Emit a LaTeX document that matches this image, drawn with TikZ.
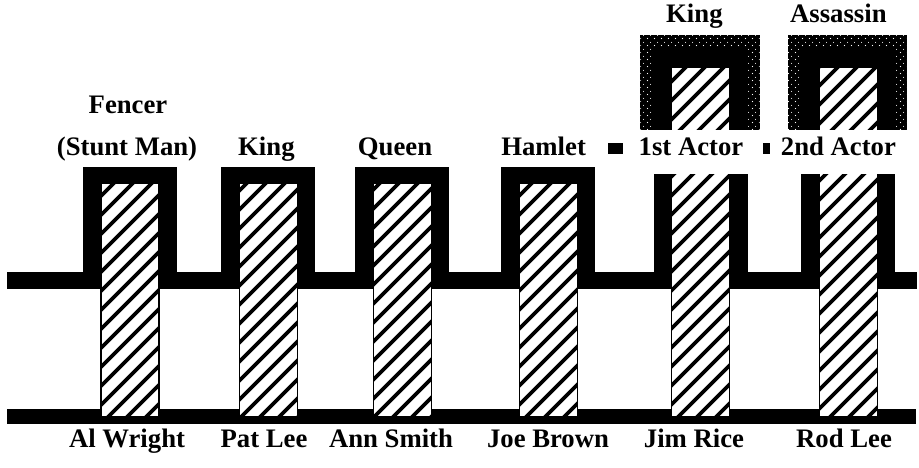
\documentclass[tikz,border=0pt]{standalone}
\usepackage{fontspec}
\setmainfont{Liberation Serif}
\usetikzlibrary{patterns.meta}

% hatching of the actor bars
\tikzdeclarepattern{
  name=hatch,
  type=uncolored,
  bounding box={(0pt,0pt) and (13.5pt,13.5pt)},
  tile size={(13.5pt,13.5pt)},
  code={
    \draw[line width=2.6pt] (-2pt,-2pt) -- (15.5pt,15.5pt);
    \draw[line width=2.6pt] (-2pt,11.5pt) -- (2pt,15.5pt);
    \draw[line width=2.6pt] (11.5pt,-2pt) -- (15.5pt,2pt);
  }
}
% speckled edge of the inner roles
\tikzdeclarepattern{
  name=specks,
  type=uncolored,
  bounding box={(0pt,0pt) and (5pt,5pt)},
  tile size={(5pt,5pt)},
  code={\fill (1.2pt,1.2pt) circle (0.45pt); \fill (3.7pt,3.7pt) circle (0.4pt);}
}

\begin{document}
\begin{tikzpicture}[
    lbl/.style={font=\fontsize{19}{24}\selectfont\bfseries, inner sep=0pt, anchor=base},
    cover/.style={fill=white, inner xsep=3pt, text height=0.65cm, text depth=0.45cm},
    actor/.style={fill=white, draw=black, line width=0.8pt, postaction={pattern=hatch}},
    speckled/.style={fill=black, postaction={pattern=specks, pattern color=white}}
]
    \useasboundingbox (0,0) rectangle (22.975,11.7);

    % Plano inferior y plano de la obra
    \fill (0.175,1.1) rectangle (22.9,1.475);
    \fill (0.175,4.475) rectangle (22.925,4.9);

    % Papeles en la obra
    \foreach \c in {3.25,6.71,10.06,13.71,17.52,21.21}
        \fill (\c-1.175,4.475) rectangle (\c+1.175,7.525);

    % Papeles dentro de la obra dentro de la obra
    \foreach \c in {17.5,21.18}{
        \fill[speckled] (\c-1.49,8.45) rectangle (\c+1.49,10.825);
        \fill (\c-1.19,8.45) rectangle (\c+1.19,10.525);
    }

    % Actores
    \foreach \c in {3.25,6.71,10.06,13.71}
        \draw[actor] (\c-0.725,1.275) rectangle (\c+0.725,7.125);
    \foreach \c in {17.52,21.21}
        \draw[actor] (\c-0.725,1.275) rectangle (\c+0.725,10.025);

    % Nombres de los papeles
    \node[lbl] (fencer) at (3.2,8.85) {Fencer};
    \node[lbl] (stunt) at (3.175,7.8) {(Stunt Man)};
    \node[lbl] (king) at (6.66,7.8) {King};
    \node[lbl] (queen) at (9.875,7.8) {Queen};
    \node[lbl] (hamlet) at (13.59,7.8) {Hamlet};
    \node[lbl, cover] (actor1) at (17.275,7.8) {1st Actor};
    \node[lbl, cover] (actor2) at (20.96,7.8) {2nd Actor};
    \fill (15.2,7.85) rectangle (15.575,8.125);
    \fill (19.075,7.85) rectangle (19.25,8.125);
    \node[lbl] (king2) at (17.36,11.125) {King};
    \node[lbl] (assassin) at (20.96,11.125) {Assassin};

    % Nombres de los actores
    \node[lbl] (wright) at (3.175,0.5) {Al Wright};
    \node[lbl] (patlee) at (6.6,0.5) {Pat Lee};
    \node[lbl] (smith) at (9.775,0.5) {Ann Smith};
    \node[lbl] (brown) at (13.7,0.5) {Joe Brown};
    \node[lbl] (rice) at (17.35,0.5) {Jim Rice};
    \node[lbl] (rodlee) at (21.1,0.5) {Rod Lee};
\end{tikzpicture}
\end{document}
